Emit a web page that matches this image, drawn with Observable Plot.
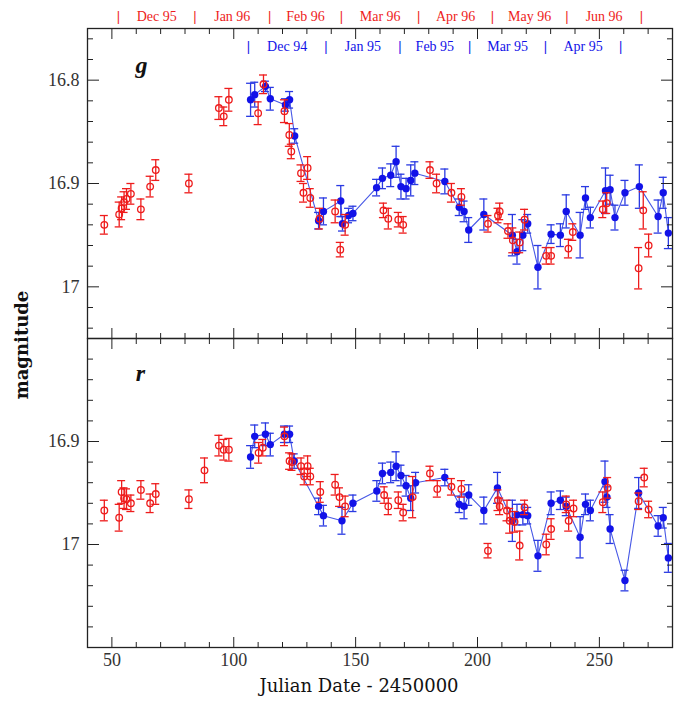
<!DOCTYPE html>
<html><head><meta charset="utf-8">
<script src="https://cdn.jsdelivr.net/npm/d3@7"></script>
<script src="https://cdn.jsdelivr.net/npm/@observablehq/plot@0.6"></script>
<style>
body{margin:0;background:#fff;}
#wrap{position:relative;width:685px;height:707px;overflow:hidden;background:#fff}
#top,#bot{position:absolute;left:0}
#top{top:0}
#bot{top:337px}
#ylab{position:absolute;left:21px;top:345px;transform:translate(-50%,-50%) rotate(-90deg);font:bold 18px "DejaVu Serif";color:#111;white-space:nowrap}
</style></head><body>
<div id="wrap"><div id="top"></div><div id="bot"></div><div id="ylab">magnitude</div></div>
<script>
// ---- g band: 1995-96 (red, open) ----
const gRedJD = [46.9, 53.0, 54.0, 55.0, 56.0, 57.8, 61.9, 65.7, 68.0, 81.6, 93.9, 95.9, 98.0, 110.0, 112.2, 120.8, 122.8, 123.6, 127.6, 128.6, 130.3, 131.4, 135.2, 141.6, 143.7, 145.7, 161.4, 163.4, 167.5, 169.5, 180.5, 183.2, 189.3, 193.4, 204.3, 208.4, 209.1, 212.5, 214.5, 217.3, 219.3, 228.2, 230.2, 237.3, 239.1, 251.4, 253.0, 266.1, 268.0, 270.2];
const gRedMag = [16.940, 16.930, 16.924, 16.918, 16.915, 16.910, 16.925, 16.903, 16.887, 16.900, 16.827, 16.835, 16.819, 16.832, 16.804, 16.830, 16.853, 16.869, 16.890, 16.909, 16.885, 16.914, 16.934, 16.927, 16.964, 16.940, 16.926, 16.934, 16.935, 16.940, 16.887, 16.900, 16.909, 16.913, 16.939, 16.931, 16.927, 16.946, 16.955, 16.957, 16.935, 16.970, 16.970, 16.963, 16.947, 16.925, 16.919, 16.982, 16.926, 16.960];
const gRedErr = [0.009, 0.012, 0.011, 0.010, 0.010, 0.010, 0.010, 0.010, 0.010, 0.009, 0.011, 0.009, 0.011, 0.011, 0.009, 0.011, 0.011, 0.007, 0.008, 0.009, 0.011, 0.009, 0.010, 0.011, 0.007, 0.010, 0.007, 0.010, 0.007, 0.008, 0.008, 0.009, 0.009, 0.008, 0.008, 0.007, 0.008, 0.007, 0.012, 0.010, 0.010, 0.008, 0.008, 0.009, 0.008, 0.008, 0.010, 0.020, 0.018, 0.011];
// ---- g band: 1994-95 shifted (blue, filled, joined) ----
const gBlueJD = [106.9, 108.6, 113.0, 115.0, 121.2, 122.9, 125.0, 134.8, 136.8, 143.9, 144.6, 147.1, 148.9, 158.6, 161.0, 164.4, 166.6, 168.6, 170.7, 172.6, 174.3, 186.6, 192.5, 194.5, 196.4, 202.6, 214.3, 216.2, 218.6, 220.6, 224.8, 230.2, 234.0, 236.4, 242.1, 244.3, 246.3, 252.5, 254.4, 256.4, 260.5, 266.4, 274.1, 276.2, 278.3];
const gBlueMag = [16.819, 16.814, 16.806, 16.818, 16.824, 16.819, 16.854, 16.936, 16.927, 16.917, 16.939, 16.931, 16.929, 16.904, 16.895, 16.892, 16.879, 16.903, 16.905, 16.897, 16.890, 16.898, 16.923, 16.927, 16.945, 16.930, 16.950, 16.966, 16.950, 16.939, 16.981, 16.949, 16.950, 16.927, 16.950, 16.914, 16.933, 16.907, 16.906, 16.933, 16.909, 16.903, 16.932, 16.909, 16.948];
const gBlueErr = [0.016, 0.012, 0.005, 0.011, 0.006, 0.008, 0.007, 0.008, 0.013, 0.015, 0.007, 0.007, 0.007, 0.008, 0.010, 0.011, 0.015, 0.012, 0.010, 0.015, 0.011, 0.012, 0.008, 0.010, 0.012, 0.015, 0.020, 0.012, 0.015, 0.009, 0.021, 0.009, 0.011, 0.016, 0.022, 0.011, 0.010, 0.022, 0.014, 0.012, 0.012, 0.021, 0.016, 0.015, 0.015];
// ---- r band: 1995-96 (red) ----
const rRedJD = [46.9, 53.0, 54.0, 55.0, 56.0, 57.8, 61.9, 65.7, 68.0, 81.6, 88.0, 93.9, 95.9, 98.0, 110.2, 111.9, 120.8, 122.9, 123.9, 127.6, 128.9, 130.3, 131.4, 135.5, 141.6, 143.4, 145.7, 161.7, 163.4, 167.5, 169.5, 173.4, 180.5, 183.5, 189.3, 193.4, 204.3, 208.4, 209.1, 212.1, 213.2, 215.2, 217.3, 219.3, 228.2, 230.2, 236.4, 237.4, 239.4, 251.4, 253.4, 266.1, 268.4, 270.2];
const rRedMag = [16.967, 16.974, 16.949, 16.955, 16.956, 16.960, 16.947, 16.960, 16.951, 16.956, 16.928, 16.904, 16.908, 16.908, 16.911, 16.906, 16.895, 16.919, 16.920, 16.924, 16.934, 16.924, 16.934, 16.949, 16.942, 16.954, 16.963, 16.952, 16.963, 16.957, 16.969, 16.954, 16.931, 16.946, 16.944, 16.946, 17.006, 16.957, 16.963, 16.967, 16.977, 16.978, 17.001, 16.964, 17.000, 16.985, 16.961, 16.977, 16.965, 16.959, 16.945, 16.958, 16.935, 16.966];
const rRedErr = [0.010, 0.013, 0.011, 0.010, 0.010, 0.008, 0.009, 0.009, 0.010, 0.009, 0.012, 0.010, 0.010, 0.011, 0.010, 0.008, 0.009, 0.008, 0.008, 0.008, 0.008, 0.010, 0.008, 0.010, 0.010, 0.009, 0.010, 0.008, 0.008, 0.008, 0.008, 0.020, 0.007, 0.008, 0.008, 0.008, 0.007, 0.010, 0.008, 0.010, 0.012, 0.010, 0.014, 0.007, 0.010, 0.010, 0.008, 0.010, 0.008, 0.010, 0.010, 0.008, 0.009, 0.008];
// ---- r band: 1994-95 shifted (blue) ----
const rBlueJD = [106.9, 108.6, 113.0, 115.0, 120.8, 122.9, 124.8, 134.8, 136.8, 144.4, 148.9, 158.7, 161.0, 164.4, 166.6, 168.6, 170.7, 172.6, 174.6, 186.6, 192.5, 194.5, 196.4, 202.6, 208.2, 214.3, 216.2, 218.6, 220.6, 224.8, 230.2, 234.0, 236.4, 242.1, 244.3, 246.3, 252.3, 253.1, 254.4, 260.5, 266.1, 274.1, 276.2, 278.3];
const rBlueMag = [16.915, 16.895, 16.893, 16.903, 16.893, 16.893, 16.919, 16.963, 16.972, 16.977, 16.960, 16.948, 16.931, 16.930, 16.924, 16.933, 16.943, 16.955, 16.940, 16.935, 16.961, 16.963, 16.952, 16.967, 16.945, 16.977, 16.971, 16.971, 16.972, 17.011, 16.960, 16.957, 16.963, 16.993, 16.961, 16.967, 16.939, 16.954, 16.985, 17.035, 16.950, 16.982, 16.974, 17.013];
const rBlueErr = [0.011, 0.011, 0.011, 0.011, 0.008, 0.008, 0.007, 0.008, 0.010, 0.013, 0.008, 0.010, 0.010, 0.010, 0.014, 0.010, 0.010, 0.012, 0.010, 0.008, 0.008, 0.012, 0.010, 0.013, 0.015, 0.020, 0.010, 0.010, 0.008, 0.015, 0.011, 0.009, 0.009, 0.020, 0.010, 0.010, 0.020, 0.010, 0.014, 0.010, 0.015, 0.010, 0.010, 0.014];

// ---- month markers ----
const edges96 = [52.7, 84.1, 114.7, 144.2, 175.9, 206.1, 236.7, 267.2];
const months96 = ["Dec 95", "Jan 96", "Feb 96", "Mar 96", "Apr 96", "May 96", "Jun 96"];
const edges95 = [106.0, 137.8, 168.2, 196.8, 227.9, 258.7];
const months95 = ["Dec 94", "Jan 95", "Feb 95", "Mar 95", "Apr 95"];

// ---- ticks and labels ----
const xDomain = [40, 280];
const xMajor = [50, 100, 150, 200, 250];
const xMinor = [40, 60, 70, 80, 90, 110, 120, 130, 140, 160, 170, 180, 190, 210, 220, 230, 240, 260, 270, 280];
const gDomain = [16.75, 17.05];
const gMajor = [16.8, 16.9, 17];
const gMinor = [16.76, 16.78, 16.82, 16.84, 16.86, 16.88, 16.92, 16.94, 16.96, 16.98, 17.02, 17.04];
const rDomain = [16.8, 17.1];
const rMajor = [16.9, 17];
const rMinor = [16.82, 16.84, 16.86, 16.88, 16.92, 16.94, 16.96, 16.98, 17.02, 17.04, 17.06, 17.08];
const xLabel = ["Julian Date - 2450000"];

const RED = "#ee1c1c", BLUE = "#1212e8", BLUE_BAR = "#2a3ae2", BLUE_LINE = "#4758e6", INK = "#222";
const plain = d => `${d}`;

function rows(xs, ys, es) { return xs.map((x, i) => ({x, y: ys[i], lo: ys[i] - es[i], hi: ys[i] + es[i]})); }
function mids(edges, labels) { return labels.map((label, i) => ({x: (edges[i] + edges[i + 1]) / 2, label})); }

function series(data, color, filled) {
  const m = [];
  if (filled) m.push(Plot.line(data, {x: "x", y: "y", stroke: BLUE_LINE, strokeWidth: 1.1}));
  const bar = filled ? BLUE_BAR : color;
  m.push(Plot.ruleX(data, {x: "x", y1: "lo", y2: "hi", stroke: bar, strokeWidth: 1.3}));
  m.push(Plot.ruleY(data, {y: "lo", x1: "x", x2: "x", insetLeft: -4, insetRight: -4, stroke: bar, strokeWidth: 1.3}));
  m.push(Plot.ruleY(data, {y: "hi", x1: "x", x2: "x", insetLeft: -4, insetRight: -4, stroke: bar, strokeWidth: 1.3}));
  m.push(filled
    ? Plot.dot(data, {x: "x", y: "y", r: 3.7, fill: color})
    : Plot.dot(data, {x: "x", y: "y", r: 3.3, stroke: color, strokeWidth: 1.3, fill: "none"}));
  return m;
}

function frameTicks(yMajor, yMinor) {
  const blank = () => "";
  return [
    Plot.axisX({anchor: "bottom", ticks: xMinor, tickSize: -5, tickFormat: blank, label: null, stroke: INK}),
    Plot.axisX({anchor: "bottom", ticks: xMajor, tickSize: -10, tickFormat: blank, label: null, stroke: INK}),
    Plot.axisX({anchor: "top", ticks: xMinor, tickSize: -5, tickFormat: blank, label: null, stroke: INK}),
    Plot.axisX({anchor: "top", ticks: xMajor, tickSize: -10, tickFormat: blank, label: null, stroke: INK}),
    Plot.axisY({anchor: "left", ticks: yMinor, tickSize: -6, tickFormat: blank, label: null, stroke: INK}),
    Plot.axisY({anchor: "left", ticks: yMajor, tickSize: -12, tickFormat: blank, label: null, stroke: INK}),
    Plot.axisY({anchor: "right", ticks: yMinor, tickSize: -6, tickFormat: blank, label: null, stroke: INK}),
    Plot.axisY({anchor: "right", ticks: yMajor, tickSize: -12, tickFormat: blank, label: null, stroke: INK}),
    Plot.axisY({anchor: "left", ticks: yMajor, tickSize: 0, tickPadding: 8, tickFormat: plain, label: null, fill: "#333"}),
    Plot.frame({stroke: INK, strokeWidth: 1.3})
  ];
}

function monthMarks(edges, labels, color, dy) {
  return [
    Plot.text(edges, {x: d => d, text: () => "|", frameAnchor: "top", lineAnchor: "middle", dy, fill: color, fontSize: 15, fontWeight: "bold"}),
    Plot.text(mids(edges, labels), {x: "x", text: "label", frameAnchor: "top", lineAnchor: "middle", dy, fill: color, fontSize: 14})
  ];
}

const topPlot = Plot.plot({
  width: 685, height: 340, marginLeft: 87, marginRight: 13, marginTop: 28, marginBottom: 2,
  x: {domain: xDomain},
  y: {domain: gDomain, reverse: true},
  style: {fontFamily: "'Liberation Serif', serif", fontSize: "18px", background: "white", color: INK},
  marks: [
    ...series(rows(gBlueJD, gBlueMag, gBlueErr), BLUE, true),
    ...series(rows(gRedJD, gRedMag, gRedErr), RED, false),
    ...frameTicks(gMajor, gMinor),
    ...monthMarks(edges96, months96, RED, -12),
    ...monthMarks(edges95, months95, BLUE, 18),
    Plot.text(["g"], {text: d => d, frameAnchor: "top-left", textAnchor: "middle", lineAnchor: "middle", dx: 54, dy: 37, fontStyle: "italic", fontWeight: "bold", fontSize: 24, fill: "#111"})
  ]
});

const botPlot = Plot.plot({
  width: 685, height: 370, marginLeft: 87, marginRight: 13, marginTop: 1, marginBottom: 60,
  x: {domain: xDomain},
  y: {domain: rDomain, reverse: true},
  style: {fontFamily: "'Liberation Serif', serif", fontSize: "18px", background: "none", color: INK},
  marks: [
    ...series(rows(rBlueJD, rBlueMag, rBlueErr), BLUE, true),
    ...series(rows(rRedJD, rRedMag, rRedErr), RED, false),
    ...frameTicks(rMajor, rMinor),
    Plot.axisX({anchor: "bottom", ticks: xMajor, tickSize: 0, tickPadding: 6, tickFormat: plain, label: null, fill: "#333"}),
    Plot.text(xLabel, {text: d => d, frameAnchor: "bottom", dx: -21, dy: 44, fontFamily: "DejaVu Serif", fontSize: 18, fill: "#111"}),
    Plot.text(["r"], {text: d => d, frameAnchor: "top-left", textAnchor: "middle", lineAnchor: "middle", dx: 53, dy: 35, fontStyle: "italic", fontWeight: "bold", fontSize: 24, fill: "#111"})
  ]
});

document.getElementById("top").appendChild(topPlot);
document.getElementById("bot").appendChild(botPlot);
</script>
</body></html>
